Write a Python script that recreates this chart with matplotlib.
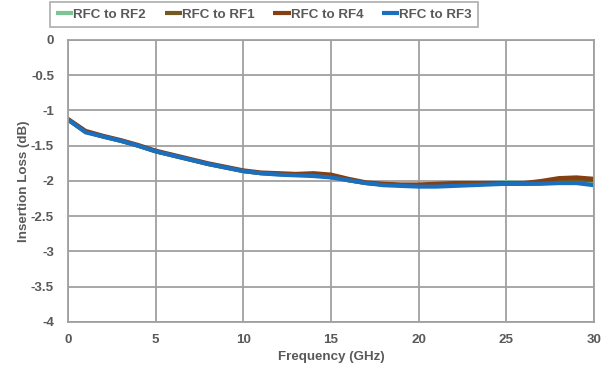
import matplotlib
matplotlib.use("Agg")
import matplotlib.pyplot as plt
import numpy as np

freq = list(range(0, 31))
rf3 = [-1.13, -1.31, -1.37, -1.43, -1.50, -1.58, -1.64, -1.70, -1.76, -1.81, -1.86, -1.89, -1.91, -1.92,
       -1.93, -1.95, -1.99, -2.03, -2.06, -2.07, -2.08, -2.08, -2.07, -2.06, -2.05, -2.04, -2.04, -2.04,
       -2.03, -2.03, -2.06]
rf2 = [-1.13, -1.30, -1.37, -1.43, -1.50, -1.58, -1.64, -1.70, -1.76, -1.81, -1.86, -1.89, -1.90, -1.91,
       -1.92, -1.94, -1.99, -2.03, -2.05, -2.06, -2.06, -2.06, -2.05, -2.04, -2.03, -2.02, -2.03, -2.03,
       -2.01, -2.00, -2.01]
rf1 = [-1.13, -1.30, -1.37, -1.43, -1.50, -1.58, -1.64, -1.70, -1.76, -1.81, -1.86, -1.89, -1.90, -1.91,
       -1.91, -1.93, -1.99, -2.03, -2.05, -2.06, -2.06, -2.05, -2.05, -2.04, -2.04, -2.04, -2.04, -2.03,
       -1.99, -1.98, -1.99]
rf4 = [-1.12, -1.29, -1.36, -1.42, -1.49, -1.57, -1.63, -1.69, -1.75, -1.80, -1.85, -1.88, -1.89, -1.90,
       -1.89, -1.91, -1.97, -2.02, -2.04, -2.05, -2.05, -2.04, -2.03, -2.03, -2.03, -2.03, -2.03, -2.00,
       -1.96, -1.95, -1.97]
series = [("RFC to RF2", rf2, "#7cc494"), ("RFC to RF1", rf1, "#735a22"),
          ("RFC to RF4", rf4, "#843f12"), ("RFC to RF3", rf3, "#1a6fbf")]
yticks = [0, -0.5, -1, -1.5, -2, -2.5, -3, -3.5, -4]
ytick_labels = ["0", "-0.5", "-1", "-1.5", "-2", "-2.5", "-3", "-3.5", "-4"]
xticks = [0, 5, 10, 15, 20, 25, 30]

plt.rcParams['font.family'] = ['Liberation Sans', 'DejaVu Sans']
tc = "#595959"
fs = 9.6
fig = plt.figure(figsize=(6.05, 3.77), dpi=100)
ax = fig.add_axes([0.1124, 0.146, 0.8694, 0.748])
for name, vals, col in series:
    ax.plot(freq, vals, color=col, lw=3, label=name, solid_capstyle='butt')
ax.set_xlim(0, 30)
ax.set_ylim(-4, 0)
ax.set_xticks(xticks)
ax.set_yticks(yticks)
ax.set_yticklabels(ytick_labels)
ax.grid(True, color="#a0a0a0", lw=1.3)
ax.set_axisbelow(True)
for s in ax.spines.values():
    s.set_color("#a0a0a0")
    s.set_linewidth(1.3)
ax.tick_params(length=0, colors=tc, labelsize=fs)
ax.tick_params(axis='y', pad=10)
ax.tick_params(axis='x', pad=9)
for lab in ax.get_xticklabels() + ax.get_yticklabels():
    lab.set_fontweight('bold')
ax.set_xlabel("Frequency (GHz)", color=tc, fontsize=fs, fontweight='bold', labelpad=3)
ax.set_ylabel("Insertion Loss (dB)", color=tc, fontsize=fs, fontweight='bold', labelpad=1)
leg = fig.legend(loc='center', bbox_to_anchor=(264/605, 1 - 14.5/377), ncol=4, frameon=True,
                 fancybox=False, edgecolor="#a0a0a0", fontsize=fs, handlelength=1.3,
                 handletextpad=0.0, columnspacing=1.4, borderpad=0.45)
leg.get_frame().set_linewidth(1.3)
for t in leg.get_texts():
    t.set_color(tc)
    t.set_fontweight('bold')
fig.savefig("out.png", dpi=100)
